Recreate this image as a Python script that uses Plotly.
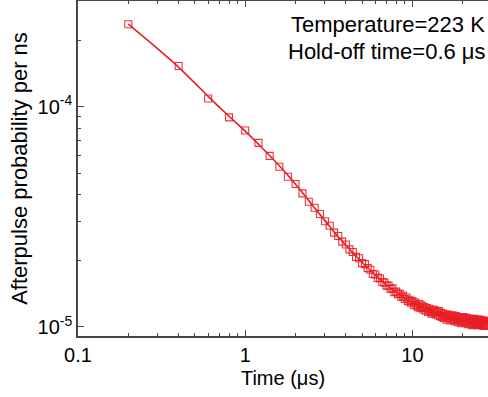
import plotly.graph_objects as go

# Measured afterpulse probability (per ns), time in microseconds
time_us = [0.2, 0.4, 0.6, 0.8, 1.0, 1.2, 1.4, 1.6, 1.8, 2.0,
           2.2, 2.4, 2.6, 2.8, 3.0, 3.2, 3.4, 3.6, 3.8, 4.0,
           4.2, 4.4, 4.6, 4.8, 5.0, 5.2, 5.4, 5.6, 5.8, 6.0,
           6.2, 6.4, 6.6, 6.8, 7.0, 7.2, 7.4, 7.6, 7.8, 8.0,
           8.2, 8.4, 8.6, 8.8, 9.0, 9.2, 9.4, 9.6, 9.8, 10.0,
           10.2, 10.4, 10.6, 10.8, 11.0, 11.2, 11.4, 11.6, 11.8, 12.0,
           12.2, 12.4, 12.6, 12.8, 13.0, 13.2, 13.4, 13.6, 13.8, 14.0,
           14.2, 14.4, 14.6, 14.8, 15.0, 15.2, 15.4, 15.6, 15.8, 16.0,
           16.2, 16.4, 16.6, 16.8, 17.0, 17.2, 17.4, 17.6, 17.8, 18.0,
           18.2, 18.4, 18.6, 18.8, 19.0, 19.2, 19.4, 19.6, 19.8, 20.0,
           20.2, 20.4, 20.6, 20.8, 21.0, 21.2, 21.4, 21.6, 21.8, 22.0,
           22.2, 22.4, 22.6, 22.8, 23.0, 23.2, 23.4, 23.6, 23.8, 24.0,
           24.2, 24.4, 24.6, 24.8, 25.0, 25.2, 25.4, 25.6, 25.8, 26.0,
           26.2, 26.4, 26.6, 26.8, 27.0, 27.2, 27.4, 27.6, 27.8, 28.0,
           28.2, 28.4]

# values in units of 1e-5 per ns
prob_e5 = [23.7, 15.3, 10.9, 8.95, 7.8, 6.85, 5.98, 5.34, 4.81, 4.46,
           4.04, 3.70, 3.48, 3.26, 3.02, 2.88, 2.68, 2.59, 2.44, 2.37,
           2.25, 2.19, 2.08, 2.05, 1.95, 1.93, 1.85, 1.82, 1.74, 1.73,
           1.67, 1.66, 1.60, 1.59, 1.54, 1.54, 1.49, 1.50, 1.44, 1.45,
           1.41, 1.42, 1.37, 1.39, 1.34, 1.36, 1.31, 1.33, 1.29, 1.31,
           1.26, 1.29, 1.25, 1.23, 1.27, 1.22, 1.25, 1.20, 1.23, 1.19,
           1.22, 1.17, 1.21, 1.18, 1.15, 1.20, 1.16, 1.19, 1.14, 1.17,
           1.13, 1.18, 1.12, 1.16, 1.11, 1.15, 1.10, 1.14, 1.12, 1.08,
           1.14, 1.10, 1.13, 1.07, 1.12, 1.09, 1.13, 1.08, 1.11, 1.06,
           1.12, 1.08, 1.10, 1.05, 1.11, 1.07, 1.09, 1.04, 1.10, 1.06,
           1.11, 1.05, 1.08, 1.04, 1.10, 1.06, 1.09, 1.03, 1.08, 1.05,
           1.09, 1.04, 1.07, 1.02, 1.08, 1.05, 1.09, 1.03, 1.06, 1.04,
           1.08, 1.02, 1.07, 1.05, 1.03, 1.08, 1.04, 1.06, 1.02, 1.07,
           1.03, 1.06, 1.01, 1.05, 1.07, 1.02, 1.04, 1.06, 1.01, 1.05,
           1.03, 1.06]

# fitted curve (units of 1e-5 per ns)
fit_time_us = [0.2, 0.3, 0.4, 0.5, 0.6, 0.8, 1.0, 1.25, 1.5, 2.0, 2.5, 3.0, 3.5,
               4.0, 5.0, 6.0, 7.0, 8.0, 10.0, 12.0, 15.0, 18.0, 22.0, 26.0, 30.0]
fit_e5 = [23.7, 18.3, 15.1, 12.8, 11.15, 9.05, 7.75, 6.55, 5.68, 4.45, 3.60, 3.04, 2.63,
          2.35, 1.966, 1.721, 1.553, 1.44, 1.29, 1.205, 1.135, 1.097, 1.070, 1.053, 1.040]

prob = [v * 1e-5 for v in prob_e5]
fit = [v * 1e-5 for v in fit_e5]

RED = "rgb(232,30,38)"
FONT = "Arial, Liberation Sans, Arimo, sans-serif"
AXIS = "rgb(70,70,70)"

fig = go.Figure()
fig.add_trace(go.Scatter(
    x=time_us, y=prob, mode="markers",
    marker=dict(symbol="square-open", size=7, color="rgba(232,30,38,0.9)",
                line=dict(width=1.1, color="rgba(232,30,38,0.9)")),
    showlegend=False))
fig.add_trace(go.Scatter(
    x=fit_time_us, y=fit, mode="lines", line=dict(color=RED, width=1.6, shape="spline"),
    showlegend=False))

fig.update_layout(
    width=488, height=397,
    margin=dict(l=78, r=0, t=1, b=61),
    paper_bgcolor="white", plot_bgcolor="white",
    font=dict(family=FONT, size=20, color="black"),
    xaxis=dict(
        type="log", range=[-1, 1.452],
        tickvals=[0.1, 1, 10], ticktext=["0.1", "1", "10"],
        ticks="inside", ticklen=6, tickwidth=1.2, tickcolor=AXIS,
        showline=True, linecolor=AXIS, linewidth=1.5, mirror="ticks",
        showgrid=False, zeroline=False,
        minor=dict(ticks="inside", ticklen=3, tickwidth=1, tickcolor=AXIS, dtick="D1", showgrid=False),
        title=dict(text="Time (μs)", standoff=6, font=dict(size=20)),
        tickfont=dict(size=20),
    ),
    yaxis=dict(
        type="log", range=[-5.041, -3.520],
        tickvals=[1e-5, 1e-4], ticktext=["10<sup>-5</sup>", "10<sup>-4</sup>"],
        ticks="inside", ticklen=6, tickwidth=1.2, tickcolor=AXIS,
        showline=True, linecolor=AXIS, linewidth=1.5,
        showgrid=False, zeroline=False,
        minor=dict(ticks="inside", ticklen=3, tickwidth=1, tickcolor=AXIS, dtick="D1", showgrid=False),
        title=dict(text="Afterpulse probability per ns", standoff=4, font=dict(size=22)),
        tickfont=dict(size=20),
    ),
    annotations=[
        dict(text="Temperature=223 K", xref="paper", yref="paper", x=1, y=0.929,
             xanchor="right", yanchor="middle", showarrow=False, xshift=-1,
             font=dict(size=22, family=FONT)),
        dict(text="Hold-off time=0.6 μs", xref="paper", yref="paper", x=1, y=0.849,
             xanchor="right", yanchor="middle", showarrow=False, xshift=0,
             font=dict(size=22, family=FONT)),
    ],
)

fig.write_html("out.html", config={"displayModeBar": False},
               post_script="document.body.style.margin='0px';document.body.style.overflow='hidden';")
